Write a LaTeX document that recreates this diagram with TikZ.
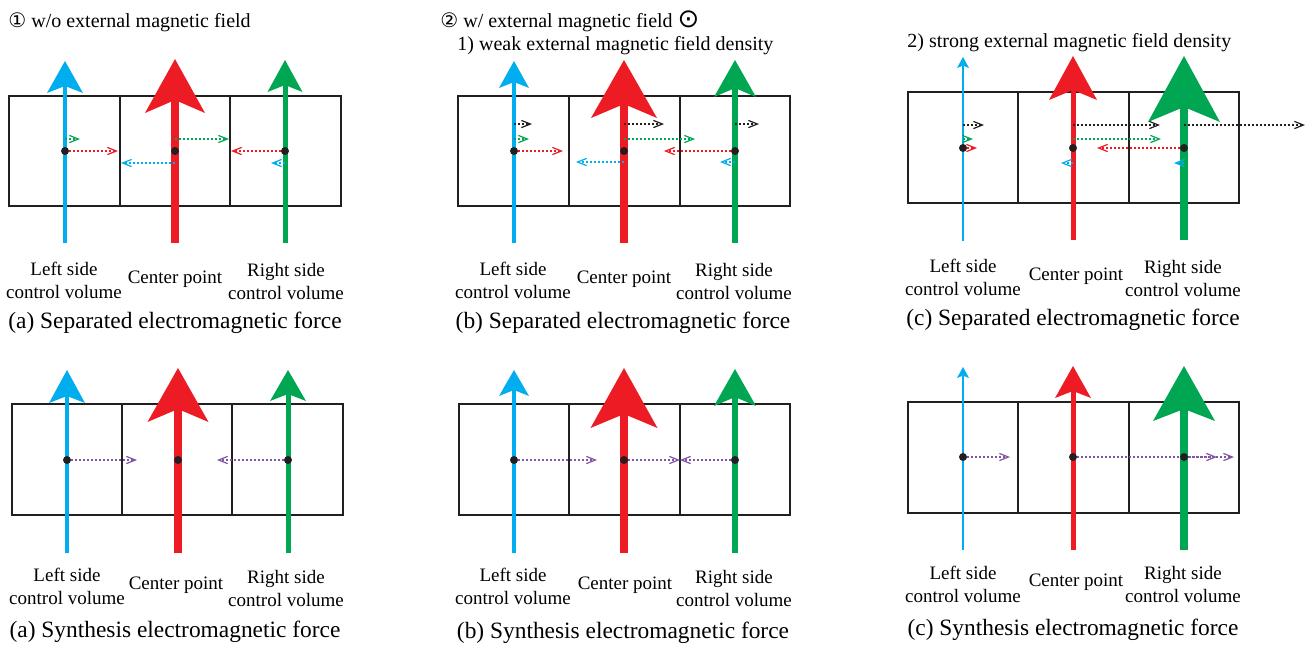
\documentclass[tikz,border=0pt]{standalone}
\usepackage{fontspec}
\setmainfont{Liberation Serif}
\newfontfamily\symfont{DejaVu Sans}
\usetikzlibrary{arrows.meta}
\definecolor{fcyan}{RGB}{0,174,239}
\definecolor{fred}{RGB}{237,28,36}
\definecolor{fgreen}{RGB}{0,166,81}
\definecolor{fpurple}{RGB}{130,84,164}
\definecolor{fblack}{RGB}{35,31,32}
\begin{document}
\begin{tikzpicture}[x=0.5pt,y=-0.5pt,line join=miter,
  cell/.style={draw=fblack,line width=0.75pt},
  fieldtip/.style n args={3}{-{Stealth[length=#1,width=#2,inset=#3,line width=0pt]}},
  force/.style={line width=0.75pt,dash pattern=on 1pt off 1pt,
    -{Straight Barb[length=4.5pt,width=3.6pt,line width=0.6pt]}},
  lbl/.style={font=\fontsize{9.5}{11.5}\selectfont,align=center,inner sep=0pt},
  captext/.style={font=\fontsize{11.7}{13}\selectfont,inner sep=0pt},
  ttl/.style={font=\fontsize{10}{12}\selectfont,anchor=base west,inner sep=0pt}]
  \useasboundingbox (0,0) rectangle (1306,645);
  % titles
  \node[ttl] (ttlA) at (8,27) {{\symfont ①} w/o external magnetic field};
  \node[ttl] (ttlB) at (440,27) {{\symfont ②} w/ external magnetic field {\symfont\fontsize{13}{13}\selectfont ⊙}};
  \node[ttl] (ttlweak) at (457,50) {1) weak external magnetic field density};
  \node[ttl] (ttlstrong) at (907,47) {2) strong external magnetic field density};
  % (a) separated
  \draw[cell] (9,96) rectangle (341,206);
  \draw[cell] (120,96) -- (120,206) (230,96) -- (230,206);
  \coordinate (saL) at (65,151);
  \coordinate (saC) at (175,151);
  \coordinate (saR) at (285,151);
  \draw[fcyan,line width=2pt,fieldtip={16pt}{18pt}{3.5pt}] (65,243) -- (65,61);
  \draw[fred,line width=4pt,fieldtip={27pt}{30pt}{6.5pt}] (175,243) -- (175,59);
  \draw[fgreen,line width=2.5pt,fieldtip={16pt}{17.5pt}{3.5pt}] (285,243) -- (285,60);
  \draw[force,fgreen] ([yshift=6pt]saL) -- ++(15,0);
  \draw[force,fred] (saL) -- ++(53,0);
  \draw[force,fgreen] ([yshift=6pt]saC) -- ++(54,0);
  \draw[force,fcyan] ([yshift=-6pt]saC) -- ++(-54,0);
  \draw[force,fred] (saR) -- ++(-54,0);
  \draw[force,fcyan] ([yshift=-6pt]saR) -- ++(-14,0);
  \fill[fblack] (saL) circle (4) (saC) circle (4) (saR) circle (4);
  \node[lbl] (saLt) at (64,280) {Left side\\control volume};
  \node[lbl] (saCt) at (175,279) {Center point};
  \node[lbl] (saRt) at (286,281) {Right side\\control volume};
  \node[captext] (saCap) at (175,323) {(a) Separated electromagnetic force};
  % (b) separated
  \draw[cell] (458,96) rectangle (790,206);
  \draw[cell] (569,96) -- (569,206) (680,96) -- (680,206);
  \coordinate (sbL) at (514,151);
  \coordinate (sbC) at (624,151);
  \coordinate (sbR) at (735,151);
  \draw[fcyan,line width=2pt,fieldtip={13.5pt}{15pt}{3pt}] (514,243) -- (514,61);
  \draw[fred,line width=4pt,fieldtip={29pt}{33pt}{7pt}] (624,243) -- (624,60);
  \draw[fgreen,line width=3pt,fieldtip={18.5pt}{21pt}{4.5pt}] (735,243) -- (735,60);
  \draw[force,fblack] ([yshift=13.5pt]sbL) -- ++(18,0);
  \draw[force,fgreen] ([yshift=6pt]sbL) -- ++(15,0);
  \draw[force,fred] (sbL) -- ++(49,0);
  \draw[force,fblack] ([yshift=13.5pt]sbC) -- ++(40,0);
  \draw[force,fgreen] ([yshift=6pt]sbC) -- ++(71,0);
  \draw[force,fcyan] ([yshift=-5.5pt]sbC) -- ++(-48,0);
  \draw[force,fblack] ([yshift=13.5pt]sbR) -- ++(24,0);
  \draw[force,fred] (sbR) -- ++(-71,0);
  \draw[force,fcyan] ([yshift=-5.5pt]sbR) -- ++(-15,0);
  \fill[fblack] (sbL) circle (4) (sbC) circle (4) (sbR) circle (4);
  \node[lbl] (sbLt) at (513,280) {Left side\\control volume};
  \node[lbl] (sbCt) at (624,279) {Center point};
  \node[lbl] (sbRt) at (734,281) {Right side\\control volume};
  \node[captext] (sbCap) at (623,323) {(b) Separated electromagnetic force};
  % (c) separated
  \draw[cell] (908,92) rectangle (1239,203);
  \draw[cell] (1018,92) -- (1018,203) (1129,92) -- (1129,203);
  \coordinate (scL) at (963,148);
  \coordinate (scC) at (1073,148);
  \coordinate (scR) at (1184,148);
  \draw[fcyan,line width=0.75pt,fieldtip={5.5pt}{6pt}{1.2pt}] (963,241) -- (963,57);
  \draw[fred,line width=2.5pt,fieldtip={22pt}{24pt}{5pt}] (1073,240) -- (1073,56);
  \draw[fgreen,line width=4pt,fieldtip={33pt}{36pt}{7.5pt}] (1184,240) -- (1184,56);
  \draw[force,fblack] ([yshift=11.5pt]scL) -- ++(21,0);
  \draw[force,fgreen] ([yshift=4.5pt]scL) -- ++(10,0);
  \draw[force,fred] (scL) -- ++(14,0);
  \draw[force,fblack] ([yshift=11.5pt]scC) -- ++(87,0);
  \draw[force,fgreen] ([yshift=4.5pt]scC) -- ++(88,0);
  \draw[force,fcyan] ([yshift=-7.5pt]scC) -- ++(-12,0);
  \draw[force,fblack] ([yshift=11.5pt]scR) -- ++(121,0);
  \draw[force,fred] (scR) -- ++(-87,0);
  \draw[force,fcyan] ([yshift=-7.5pt]scR) -- ++(-10,0);
  \fill[fblack] (scL) circle (4) (scC) circle (4) (scR) circle (4);
  \node[lbl] (scLt) at (963,277) {Left side\\control volume};
  \node[lbl] (scCt) at (1076,276) {Center point};
  \node[lbl] (scRt) at (1183,278) {Right side\\control volume};
  \node[captext] (scCap) at (1073,320) {(c) Separated electromagnetic force};
  % (a) synthesis
  \draw[cell] (12,404) rectangle (343,515);
  \draw[cell] (122,404) -- (122,515) (232,404) -- (232,515);
  \coordinate (yaL) at (67,460);
  \coordinate (yaC) at (178,460);
  \coordinate (yaR) at (288,460);
  \draw[fcyan,line width=2pt,fieldtip={16.5pt}{18pt}{3.5pt}] (67,553) -- (67,370);
  \draw[fred,line width=4pt,fieldtip={27pt}{30.5pt}{6.5pt}] (178,553) -- (178,368);
  \draw[fgreen,line width=2.5pt,fieldtip={15.5pt}{18pt}{3.5pt}] (288,553) -- (288,370);
  \draw[force,fpurple] (yaL) -- ++(70,0);
  \draw[force,fpurple] (yaR) -- ++(-71,0);
  \fill[fblack] (yaL) circle (4) (yaC) circle (4) (yaR) circle (4);
  \node[lbl] (yaLt) at (67,586) {Left side\\control volume};
  \node[lbl] (yaCt) at (176,585) {Center point};
  \node[lbl] (yaRt) at (286,588) {Right side\\control volume};
  \node[captext] (yaCap) at (175,632) {(a) Synthesis electromagnetic force};
  % (b) synthesis
  \draw[cell] (459,404) rectangle (790,515);
  \draw[cell] (569,404) -- (569,515) (680,404) -- (680,515);
  \coordinate (ybL) at (514,460);
  \coordinate (ybC) at (624,460);
  \coordinate (ybR) at (735,460);
  \draw[fcyan,line width=2pt,fieldtip={13pt}{15pt}{3pt}] (514,553) -- (514,370);
  \draw[fred,line width=4pt,fieldtip={30pt}{33.5pt}{7pt}] (624,553) -- (624,368);
  \draw[fgreen,line width=3pt,fieldtip={18.5pt}{21pt}{4.5pt}] (735,553) -- (735,369);
  \draw[force,fpurple] (ybL) -- ++(83,0);
  \draw[force,fpurple] (ybC) -- ++(56,0);
  \draw[force,fpurple] (ybR) -- ++(-55,0);
  \fill[fblack] (ybL) circle (4) (ybC) circle (4) (ybR) circle (4);
  \node[lbl] (ybLt) at (513,586) {Left side\\control volume};
  \node[lbl] (ybCt) at (625,585) {Center point};
  \node[lbl] (ybRt) at (734,588) {Right side\\control volume};
  \node[captext] (ybCap) at (623,633) {(b) Synthesis electromagnetic force};
  % (c) synthesis
  \draw[cell] (908,402) rectangle (1239,513);
  \draw[cell] (1018,402) -- (1018,513) (1129,402) -- (1129,513);
  \coordinate (ycL) at (963,457);
  \coordinate (ycC) at (1073,457);
  \coordinate (ycR) at (1184,457);
  \draw[fcyan,line width=0.75pt,fieldtip={5.5pt}{6pt}{1.2pt}] (963,550) -- (963,367);
  \draw[fred,line width=2.5pt,fieldtip={16pt}{18pt}{3.5pt}] (1073,550) -- (1073,366);
  \draw[fgreen,line width=4pt,fieldtip={27.5pt}{31pt}{6pt}] (1184,550) -- (1184,366);
  \draw[force,fpurple] (ycL) -- ++(47,0);
  \draw[force,fpurple] (ycC) -- ++(144,0);
  \draw[force,fpurple] (ycR) -- ++(50,0);
  \fill[fblack] (ycL) circle (4) (ycC) circle (4) (ycR) circle (4);
  \node[lbl] (ycLt) at (963,584) {Left side\\control volume};
  \node[lbl] (ycCt) at (1076,582) {Center point};
  \node[lbl] (ycRt) at (1183,584) {Right side\\control volume};
  \node[captext] (ycCap) at (1073,630) {(c) Synthesis electromagnetic force};
\end{tikzpicture}
\end{document}
